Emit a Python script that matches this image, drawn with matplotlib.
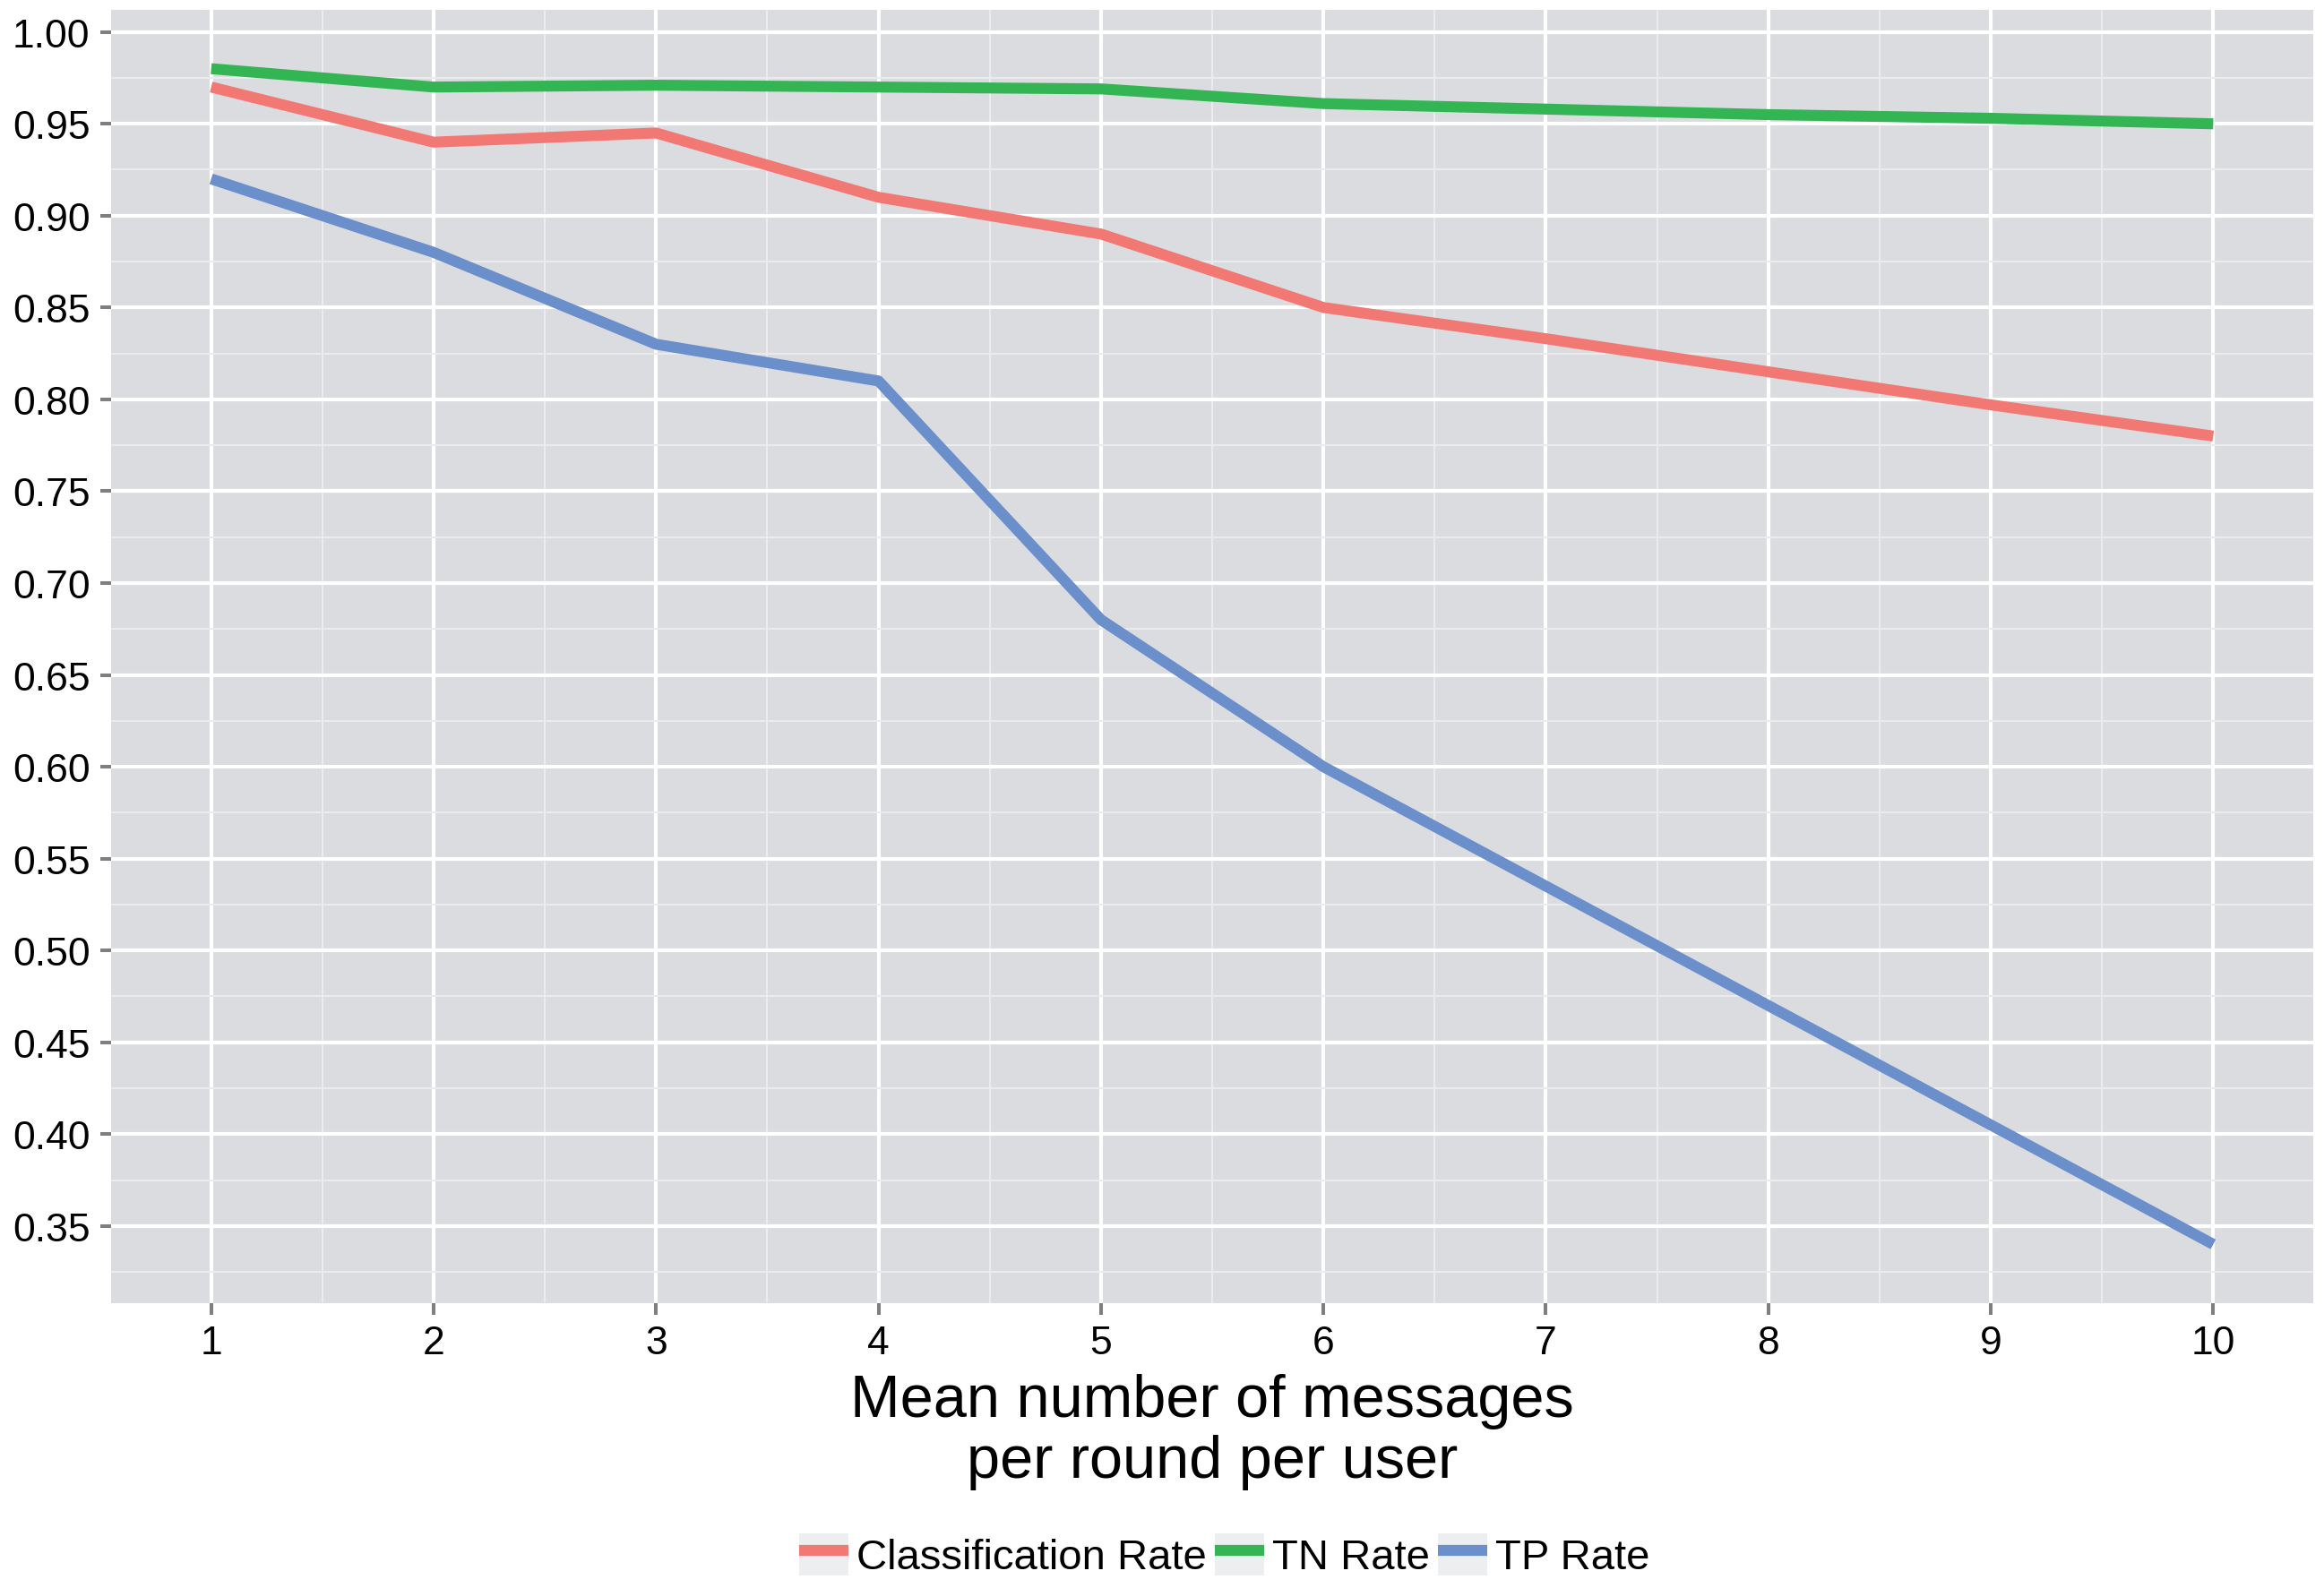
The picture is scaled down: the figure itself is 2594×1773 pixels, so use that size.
import numpy as np
import matplotlib
matplotlib.use("Agg")
from matplotlib import pyplot as plt
from matplotlib.legend_handler import HandlerLine2D
from matplotlib.patches import Rectangle
from matplotlib.ticker import MultipleLocator

# data
messages = [1, 2, 3, 4, 5, 6, 7, 8, 9, 10]
classification_rate = [0.970, 0.940, 0.945, 0.910, 0.890, 0.850, 0.833, 0.815, 0.797, 0.780]
tn_rate = [0.980, 0.970, 0.971, 0.970, 0.969, 0.961, 0.958, 0.955, 0.953, 0.950]
tp_rate = [0.920, 0.880, 0.830, 0.810, 0.680, 0.600, 0.535, 0.470, 0.405, 0.340]

series_names = ['Classification Rate', 'TN Rate', 'TP Rate']
series_colors = ['#F27873', '#34B554', '#6A8FCB']

PANEL_BG = '#DBDCE0'
KEY_BG = '#EDEEF0'
TICK_COLOR = '#7F7F7F'


class KeyHandler(HandlerLine2D):
    """Legend key with a grey square behind the line, ggplot style."""
    def create_artists(self, legend, orig_handle, xdescent, ydescent,
                       width, height, fontsize, trans):
        bg = Rectangle((-xdescent, -ydescent), width, height,
                       facecolor=KEY_BG, edgecolor='none', transform=trans)
        lines = super().create_artists(legend, orig_handle, xdescent, ydescent,
                                       width, height, fontsize, trans)
        return [bg] + lines


plt.rcParams['font.family'] = ['Liberation Sans', 'DejaVu Sans']

fig = plt.figure(figsize=(25.94, 17.74), dpi=100)
ax = fig.add_axes([0.0478, 0.1793, 0.9476, 0.8139])
ax.set_facecolor(PANEL_BG)

handles = []
for vals, name, col in zip([classification_rate, tn_rate, tp_rate], series_names, series_colors):
    ln, = ax.plot(messages, vals, color=col, lw=8.8, solid_capstyle='butt',
                  solid_joinstyle='round', label=name, zorder=3)
    handles.append(ln)

ax.set_xlim(0.55, 10.45)
ax.set_ylim(0.308, 1.012)
ax.xaxis.set_major_locator(MultipleLocator(1))
ax.xaxis.set_minor_locator(MultipleLocator(0.5))
ax.yaxis.set_major_locator(MultipleLocator(0.05))
ax.yaxis.set_minor_locator(MultipleLocator(0.025))
ax.yaxis.set_major_formatter(matplotlib.ticker.FormatStrFormatter('%.2f'))

ax.grid(which='major', color='white', lw=3.0, zorder=1)
ax.grid(which='minor', color='#EBEBED', lw=1.5, zorder=1)
ax.set_axisbelow(True)
for s in ax.spines.values():
    s.set_visible(False)

ax.tick_params(which='major', length=9, width=2.9, color=TICK_COLOR,
               labelsize=32, pad=8, labelcolor='black')
ax.tick_params(which='minor', length=0)

ax.set_xlabel('Mean number of messages\nper round per user', fontsize=48,
              labelpad=10, linespacing=1.12)

fig.legend(handles=handles, labels=series_names, loc='lower center',
           bbox_to_anchor=(0.527, 0.0), ncol=3, frameon=False, fontsize=34,
           handlelength=1.15, handleheight=1.15, handletextpad=0.2,
           columnspacing=0.2, borderpad=0.0, borderaxespad=0.25,
           handler_map={matplotlib.lines.Line2D: KeyHandler()})

fig.savefig('out.png', dpi=100)
